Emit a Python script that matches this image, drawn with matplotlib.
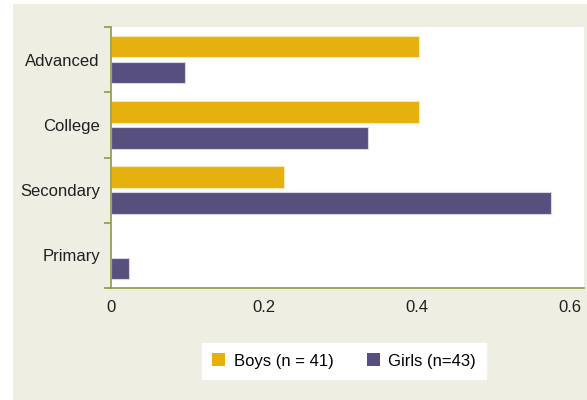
import matplotlib
matplotlib.use("Agg")
import matplotlib.pyplot as plt
import numpy as np
from matplotlib.patches import Rectangle

# データ
categories = ["Primary", "Secondary", "College", "Advanced"]
boys = [0.0, 0.226, 0.403, 0.403]
girls = [0.024, 0.575, 0.336, 0.097]
legend_labels = ["Boys (n = 41)", "Girls (n=43)"]
xticks = [0, 0.2, 0.4, 0.6]
xtick_labels = ["0", "0.2", "0.4", "0.6"]

GOLD = "#E6B00E"
PURPLE = "#57507E"
BEIGE = "#EFEEE3"
AXIS = "#8A9C45"

plt.rcParams['font.family'] = ['Liberation Sans', 'DejaVu Sans']

fig = plt.figure(figsize=(5.87, 4.0), dpi=100)
fig.patch.set_facecolor("white")
# 背景のベージュ
bg = Rectangle((13 / 587, 0), 1, 396 / 400, transform=fig.transFigure,
               facecolor=BEIGE, edgecolor="none", zorder=-10)
fig.add_artist(bg)

ax = fig.add_axes([111 / 587, 112 / 400, 473 / 587, 261 / 400])
ax.set_facecolor("white")

y = np.arange(len(categories)) + 0.5
h = 0.33
ax.barh(y + 0.2, boys, height=h, color=GOLD, edgecolor="#F7E7B0", linewidth=0.8, label=legend_labels[0])
ax.barh(y - 0.2, girls, height=h, color=PURPLE, edgecolor="#D8D5E4", linewidth=0.8, label=legend_labels[1])

ax.set_xlim(0, 0.618)
ax.set_ylim(0, 4)

ax.set_yticks(np.arange(0, 5))
ax.set_yticklabels([])
ax.set_yticks(y, minor=True)
ax.set_yticklabels(categories, minor=True, fontsize=12, color="#231F20")
ax.tick_params(axis="y", which="major", length=5, width=1.2, color=AXIS, direction="out")
ax.tick_params(axis="y", which="minor", length=0, pad=8)

ax.set_xticks(xticks)
ax.set_xticklabels(xtick_labels, fontsize=12, color="#231F20")
ax.tick_params(axis="x", length=0, pad=9)

for s in ["top", "right"]:
    ax.spines[s].set_visible(False)
for s in ["left", "bottom"]:
    ax.spines[s].set_color(AXIS)
    ax.spines[s].set_linewidth(1.2)

leg = fig.legend(loc="center", bbox_to_anchor=(344 / 587, 1 - 361 / 400), ncol=2,
                 frameon=True, fancybox=False, fontsize=12, handlelength=0.8,
                 handleheight=0.8, columnspacing=2.0, handletextpad=0.5,
                 borderpad=0.6, framealpha=1.0)
leg.get_frame().set_facecolor("white")
leg.get_frame().set_edgecolor("white")
for p in leg.get_patches():
    p.set_edgecolor("none")

fig.savefig("out.png", dpi=100, facecolor=fig.get_facecolor())
